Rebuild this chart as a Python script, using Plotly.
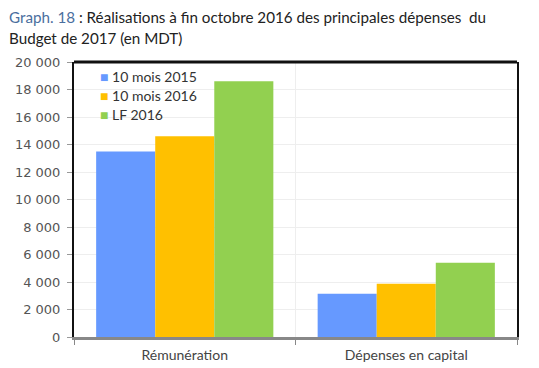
import plotly.graph_objects as go

categories = ["Rémunération", "Dépenses en capital"]
series_names = ["10 mois 2015", "10 mois 2016", "LF 2016"]
vals_2015 = [13500, 3150]
vals_2016 = [14600, 3880]
vals_lf = [18600, 5400]
colors = ["#6699FF", "#FFC000", "#92D050"]

fig = go.Figure()
for name, vals, col in zip(series_names, [vals_2015, vals_2016, vals_lf], colors):
    fig.add_trace(go.Bar(name=name, x=categories, y=vals, marker=dict(color=col, line=dict(width=0))))

title_font = "Lato, 'Open Sans', sans-serif"
tick_font = "'DejaVu Sans', sans-serif"

annotations = [
    dict(text="<span style='color:#4A6E9E'>Graph. 18</span> : Réalisations à fin octobre 2016 des principales dépenses  du",
         xref="paper", yref="paper", x=-0.152, y=1.162, xanchor="left", yanchor="middle",
         showarrow=False, font=dict(family=title_font, size=15.2, color="#222222")),
    dict(text="Budget de 2017 (en MDT)",
         xref="paper", yref="paper", x=-0.152, y=1.086, xanchor="left", yanchor="middle",
         showarrow=False, font=dict(family=title_font, size=15.2, color="#222222")),
]
for i, (name, col) in enumerate(zip(series_names, colors)):
    annotations.append(dict(
        text=f"<span style='color:{col}'>■</span> {name}",
        xref="paper", yref="paper", x=0.055, y=0.946 - i * 0.069,
        xanchor="left", yanchor="middle", showarrow=False,
        font=dict(family=title_font, size=14, color="#333333"),
    ))

fig.update_layout(
    width=539, height=368,
    margin=dict(l=74, r=22, t=62, b=31, autoexpand=False),
    paper_bgcolor="white", plot_bgcolor="white",
    barmode="group", bargap=0.2, bargroupgap=0,
    separators=", ",
    font=dict(family=title_font, size=13, color="#444444"),
    showlegend=False,
    annotations=annotations,
    xaxis=dict(
        automargin=False,
        showline=True, linecolor="#888888", linewidth=3,
        ticks="outside", tickson="boundaries", ticklen=5, tickcolor="#888888",
        showgrid=True, gridcolor="#EEEEEE",
        tickfont=dict(family=title_font, size=14, color="#444444"),
        ticklabelstandoff=3,
    ),
    yaxis=dict(
        automargin=False,
        range=[0, 20000], dtick=2000, tickformat=",d",
        showline=True, linecolor="#111111", linewidth=2, mirror=True,
        ticks="outside", ticklen=5, tickcolor="#999999",
        showgrid=True, gridcolor="#EEEEEE", zeroline=False,
        tickfont=dict(family=tick_font, size=13, color="#555555"),
        ticklabelstandoff=4,
    ),
    shapes=[dict(type="line", xref="paper", yref="paper", x0=0, x1=1, y0=1, y1=1,
                 line=dict(color="#111111", width=3))],
)

fig.write_html("out.html", config={"displayModeBar": False},
               post_script="document.body.style.margin='0';document.body.style.padding='0';")
